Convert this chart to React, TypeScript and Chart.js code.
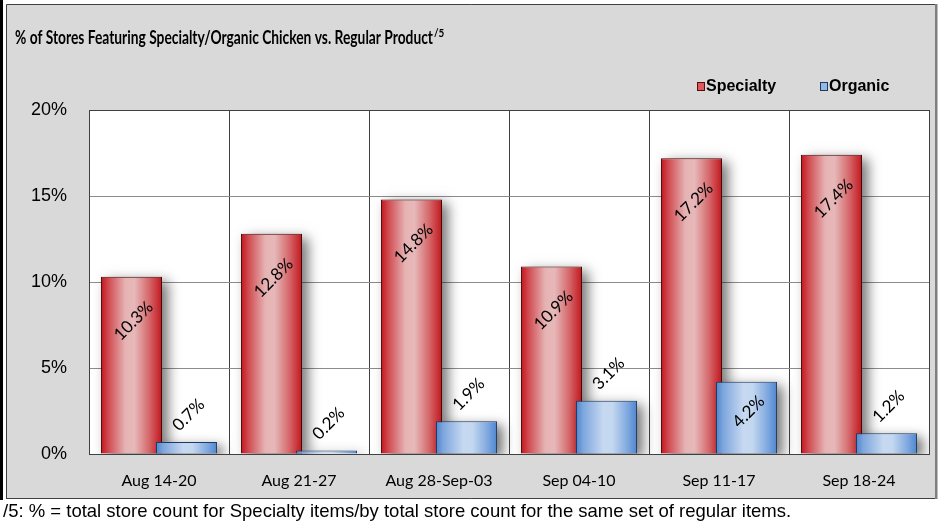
import React, { useEffect, useRef } from "react";
import { Chart, registerables } from "chart.js";

Chart.register(...registerables);

// ---- data ----
const categories = ["Aug 14-20", "Aug 21-27", "Aug 28-Sep-03", "Sep 04-10", "Sep 11-17", "Sep 18-24"];
const specialty = [10.3, 12.8, 14.8, 10.9, 17.2, 17.4];
const organic = [0.7, 0.2, 1.9, 3.1, 4.2, 1.2];
const seriesNames = ["Specialty", "Organic"];
const yTicks = [0, 5, 10, 15, 20];
const titleText = "% of Stores Featuring Specialty/Organic Chicken vs. Regular Product";
const titleSup = "/5";
const footnote = "/5: % = total store count for Specialty items/by total store count for the same set of regular items.";

// ---- styles ----
const W = 946;
const H = 522;
const CAT_PCT = 0.786;
const BAR_PCT = 1.11;
const redStops: [number, string][] = [
  [0, "#c2141b"], [0.12, "#d04a4f"], [0.4, "#e6b3b4"], [0.55, "#e7b8b9"], [0.8, "#d46467"], [1, "#c2161d"],
];
const blueStops: [number, string][] = [
  [0, "#4e85cf"], [0.12, "#7ea6dd"], [0.45, "#c6d9f1"], [0.6, "#c3d7f0"], [0.85, "#7da7df"], [1, "#4e85cf"],
];
const LABEL_FONT = '17px Lato, "Liberation Sans", sans-serif';
const TITLE_WIDTH = 418;

function barGradient(c: any, stops: [number, string][]) {
  const fallback = stops[2][1];
  if (c.type !== "data") return fallback;
  const chart = c.chart;
  const xs = chart.scales && chart.scales.x;
  if (!xs || !chart.chartArea) return fallback;
  const p0 = xs.getPixelForValue(0);
  const p1 = xs.getPixelForValue(1);
  const w = p1 - p0;
  if (!isFinite(w) || w <= 0) return fallback;
  const center = xs.getPixelForValue(c.dataIndex) + (c.datasetIndex === 0 ? -1 : 1) * (w * CAT_PCT) / 4;
  const bw = ((w * CAT_PCT) / 2) * BAR_PCT;
  const g = chart.ctx.createLinearGradient(center - bw / 2, 0, center + bw / 2, 0);
  stops.forEach(([o, col]) => g.addColorStop(o, col));
  return g;
}

function drawShadows(chart: any, idx: number) {
  const ctx = chart.ctx as CanvasRenderingContext2D;
  const a = chart.chartArea;
  const meta = chart.getDatasetMeta(idx);
  const OFF = 10000;
  ctx.save();
  ctx.beginPath();
  ctx.rect(a.left, a.top, a.right - a.left, a.bottom - a.top);
  ctx.clip();
  ctx.shadowColor = "rgba(0,0,0,0.55)";
  ctx.shadowBlur = 12;
  ctx.shadowOffsetX = OFF + 6;
  ctx.shadowOffsetY = 4;
  ctx.fillStyle = "#000000";
  meta.data.forEach((el: any) => {
    const { x, y, base, width } = el.getProps(["x", "y", "base", "width"], true);
    ctx.fillRect(x - width / 2 - OFF, y, width, base - y);
  });
  ctx.restore();
}

const framePlugin = {
  id: "frame",
  beforeDraw(chart: any) {
    const { ctx, chartArea: a } = chart;
    ctx.save();
    ctx.fillStyle = "#ffffff";
    ctx.fillRect(0, 0, W, H);
    ctx.fillStyle = "#000000";
    ctx.fillRect(0, 0, 3, 500);
    ctx.fillStyle = "#d9d9d9";
    ctx.fillRect(6, 4, 930, 495);
    ctx.strokeStyle = "#404040";
    ctx.lineWidth = 1;
    ctx.beginPath();
    ctx.moveTo(6.5, 499);
    ctx.lineTo(6.5, 4.5);
    ctx.lineTo(935, 4.5);
    ctx.moveTo(6.5, 498.5);
    ctx.lineTo(935, 498.5);
    ctx.stroke();
    ctx.fillStyle = "#7f7f7f";
    ctx.fillRect(935, 4, 2.5, 495);
    ctx.fillStyle = "#ffffff";
    ctx.fillRect(a.left, a.top, a.right - a.left, a.bottom - a.top);
    ctx.restore();
  },
};

const barFxPlugin = {
  id: "barfx",
  beforeDatasetsDraw(chart: any) {
    drawShadows(chart, 0);
  },
  beforeDatasetDraw(chart: any, args: any) {
    if (args.index === 1) return false;
    return true;
  },
  afterDatasetsDraw(chart: any) {
    const ctx = chart.ctx as CanvasRenderingContext2D;
    const a = chart.chartArea;
    drawShadows(chart, 1);
    const meta = chart.getDatasetMeta(1);
    ctx.save();
    ctx.beginPath();
    ctx.rect(a.left, a.top, a.right - a.left, a.bottom - a.top);
    ctx.clip();
    meta.controller.draw();
    ctx.restore();

    // data labels
    ctx.save();
    ctx.font = LABEL_FONT;
    ctx.fillStyle = "#000000";
    ctx.textAlign = "center";
    ctx.textBaseline = "middle";
    chart.data.datasets.forEach((ds: any, i: number) => {
      const m = chart.getDatasetMeta(i);
      m.data.forEach((el: any, j: number) => {
        const { x, y, base } = el.getProps(["x", "y", "base"], true);
        const h = base - y;
        const txt = Number(ds.data[j]).toFixed(1) + "%";
        const cy = h > 60 ? y + (i === 0 ? 44 : 30) : y - 27;
        ctx.save();
        ctx.translate(x + 2, cy);
        ctx.rotate(-Math.PI / 4);
        ctx.fillText(txt, 0, 0);
        ctx.restore();
      });
    });
    ctx.restore();
  },
};

const textPlugin = {
  id: "texts",
  afterDraw(chart: any) {
    const ctx = chart.ctx as CanvasRenderingContext2D;
    ctx.save();
    // title (condensed to the reference width)
    ctx.fillStyle = "#000000";
    ctx.textBaseline = "alphabetic";
    ctx.textAlign = "left";
    ctx.font = "bold 18px Lato, sans-serif";
    const tw = ctx.measureText(titleText).width;
    const sx = TITLE_WIDTH / tw;
    ctx.save();
    ctx.translate(15, 44);
    ctx.scale(sx, 1);
    ctx.fillText(titleText, 0, 0);
    ctx.restore();
    ctx.save();
    ctx.font = "bold 11px Lato, sans-serif";
    ctx.translate(15 + TITLE_WIDTH + 1, 37);
    ctx.scale(0.9, 1);
    ctx.fillText(titleSup, 0, 0);
    ctx.restore();

    // legend
    const items = [
      { name: seriesNames[0], x: 697, fill: "#dc5a5e", stroke: "#5a0a0a" },
      { name: seriesNames[1], x: 820, fill: "#95b8e6", stroke: "#1f3a60" },
    ];
    ctx.font = 'bold 16px "Liberation Sans", sans-serif';
    ctx.textBaseline = "middle";
    items.forEach((it) => {
      ctx.fillStyle = it.fill;
      ctx.fillRect(it.x + 0.5, 82.5, 7, 8);
      ctx.strokeStyle = it.stroke;
      ctx.lineWidth = 1;
      ctx.strokeRect(it.x + 0.5, 82.5, 7, 8);
      ctx.fillStyle = "#000000";
      ctx.fillText(it.name, it.x + 9, 87);
    });

    // footnote
    ctx.font = '18.5px "Liberation Sans", sans-serif';
    ctx.textBaseline = "middle";
    ctx.fillStyle = "#000000";
    ctx.fillText(footnote, 3, 512);
    ctx.restore();
  },
};

export default function App() {
  const ref = useRef<HTMLCanvasElement>(null);
  useEffect(() => {
    const canvas = ref.current;
    if (!canvas) return;
    const chart = new Chart(canvas, {
      type: "bar",
      data: {
        labels: categories,
        datasets: [
          {
            label: seriesNames[0],
            data: specialty,
            backgroundColor: (c: any) => barGradient(c, redStops),
            borderColor: "#4a0606",
            borderWidth: 1,
            categoryPercentage: CAT_PCT,
            barPercentage: BAR_PCT,
          },
          {
            label: seriesNames[1],
            data: organic,
            backgroundColor: (c: any) => barGradient(c, blueStops),
            borderColor: "#1f3a60",
            borderWidth: 1,
            categoryPercentage: CAT_PCT,
            barPercentage: BAR_PCT,
          },
        ],
      },
      options: {
        responsive: false,
        animation: false,
        devicePixelRatio: 1,
        layout: { padding: { left: 0, right: 17, top: 110, bottom: 28 } },
        plugins: {
          legend: { display: false },
          title: { display: false },
          tooltip: { enabled: false },
        },
        scales: {
          x: {
            type: "category",
            offset: true,
            grid: { offset: true, color: "#404040", lineWidth: 1, drawTicks: false },
            border: { color: "#404040" },
            ticks: {
              color: "#000000",
              font: { family: "Lato", size: 16 },
              padding: 17,
              maxRotation: 0,
              autoSkip: false,
            },
            afterFit: (s: any) => {
              s.height = 40;
            },
          },
          y: {
            min: 0,
            max: 20,
            afterBuildTicks: (s: any) => {
              s.ticks = yTicks.map((v) => ({ value: v }));
            },
            ticks: {
              callback: (v: any) => v + "%",
              color: "#000000",
              font: { family: '"Liberation Sans"', size: 18 },
              padding: 22,
            },
            grid: {
              color: (c: any) => (c.tick && c.tick.value === 20 ? "#404040" : "#8c8c8c"),
              drawTicks: false,
            },
            border: { color: "#404040" },
            afterFit: (s: any) => {
              s.width = 89;
            },
          },
        },
      },
      plugins: [framePlugin, barFxPlugin, textPlugin],
    } as any);
    return () => chart.destroy();
  }, []);

  return (
    <div style={{ position: "absolute", left: 0, top: 0, width: W, height: H, background: "#ffffff" }}>
      <canvas ref={ref} width={W} height={H} style={{ display: "block", width: W, height: H }} />
    </div>
  );
}
